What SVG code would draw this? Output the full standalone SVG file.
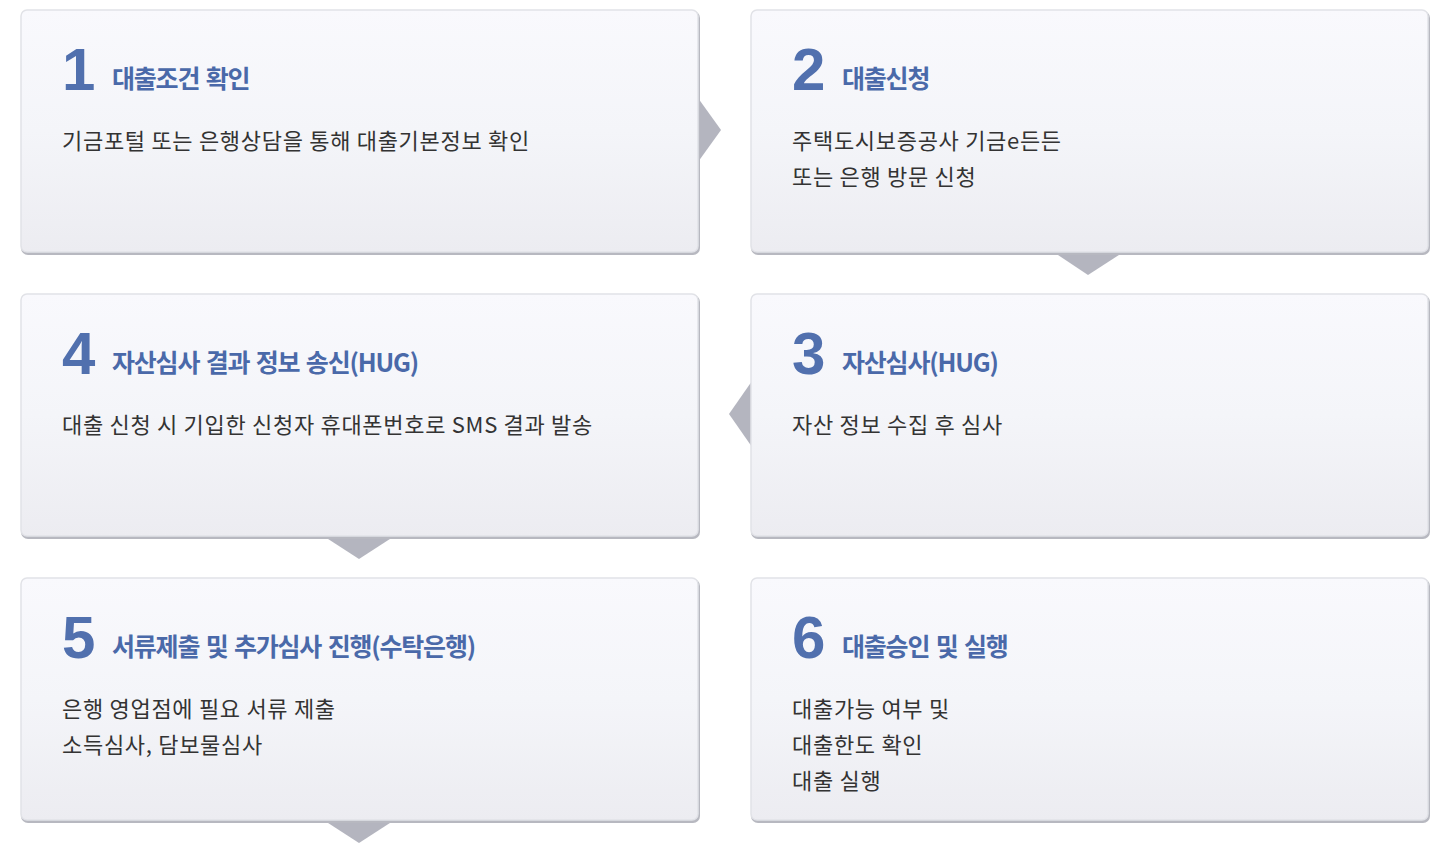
<svg xmlns="http://www.w3.org/2000/svg" width="1448" height="858" viewBox="0 0 1448 858">
<style>
.sh{fill:#b7b8c0}
.bx{fill:url(#g);stroke:#e1e2e7;stroke-width:1.5}
.num{font-family:"Liberation Sans",Arial,sans-serif;font-weight:bold;font-size:60px;fill:#5170ae}
.tt{font-family:"Noto Sans CJK KR","Liberation Sans",sans-serif;font-weight:bold;font-size:25px;letter-spacing:-1.2px;word-spacing:2px;fill:#4a69a9}
.bd{font-family:"Noto Sans CJK KR","Liberation Sans",sans-serif;font-size:22px;letter-spacing:0.7px;fill:#333}
.ar{fill:#b4b5bf}
</style>
<defs>
<linearGradient id="g" x1="0" y1="0" x2="0" y2="1">
<stop offset="0" stop-color="#f9f9fd"/>
<stop offset="0.5" stop-color="#f4f5f9"/>
<stop offset="1" stop-color="#ececf1"/>
</linearGradient>
</defs>
<rect width="1448" height="858" fill="#fff"/>
<g id="connectors">
<polygon class="ar" points="698,98 721,130 698,162"/>
<polygon class="ar" points="1055,253 1122,253 1088,275"/>
<polygon class="ar" points="752,381 729,414 752,447"/>
<polygon class="ar" points="325,537 393,537 359,559"/>
<polygon class="ar" points="325,821 393,821 359,843"/>
</g>
<g id="node1">
<rect class="sh" x="21" y="11" width="679" height="244" rx="7"/>
<rect class="bx" x="21" y="10" width="677" height="242" rx="6"/>
<text class="num" x="62" y="90">1</text>
<text class="tt" x="112" y="88">대출조건 확인</text>
<text class="bd" x="62" y="149">기금포털 또는 은행상담을 통해 대출기본정보 확인</text>
</g>
<g id="node2">
<rect class="sh" x="751" y="11" width="679" height="244" rx="7"/>
<rect class="bx" x="751" y="10" width="677" height="242" rx="6"/>
<text class="num" x="792" y="90">2</text>
<text class="tt" x="842" y="88">대출신청</text>
<text class="bd" x="792" y="149">주택도시보증공사 기금e든든</text>
<text class="bd" x="792" y="185">또는 은행 방문 신청</text>
</g>
<g id="node4">
<rect class="sh" x="21" y="295" width="679" height="244" rx="7"/>
<rect class="bx" x="21" y="294" width="677" height="242" rx="6"/>
<text class="num" x="62" y="374">4</text>
<text class="tt" x="112" y="372">자산심사 결과 정보 송신(HUG)</text>
<text class="bd" x="62" y="433">대출 신청 시 기입한 신청자 휴대폰번호로 SMS 결과 발송</text>
</g>
<g id="node3">
<rect class="sh" x="751" y="295" width="679" height="244" rx="7"/>
<rect class="bx" x="751" y="294" width="677" height="242" rx="6"/>
<text class="num" x="792" y="374">3</text>
<text class="tt" x="842" y="372">자산심사(HUG)</text>
<text class="bd" x="792" y="433">자산 정보 수집 후 심사</text>
</g>
<g id="node5">
<rect class="sh" x="21" y="579" width="679" height="244" rx="7"/>
<rect class="bx" x="21" y="578" width="677" height="242" rx="6"/>
<text class="num" x="62" y="658">5</text>
<text class="tt" x="112" y="656">서류제출 및 추가심사 진행(수탁은행)</text>
<text class="bd" x="62" y="717">은행 영업점에 필요 서류 제출</text>
<text class="bd" x="62" y="753">소득심사, 담보물심사</text>
</g>
<g id="node6">
<rect class="sh" x="751" y="579" width="679" height="244" rx="7"/>
<rect class="bx" x="751" y="578" width="677" height="242" rx="6"/>
<text class="num" x="792" y="658">6</text>
<text class="tt" x="842" y="656">대출승인 및 실행</text>
<text class="bd" x="792" y="717">대출가능 여부 및</text>
<text class="bd" x="792" y="753">대출한도 확인</text>
<text class="bd" x="792" y="789">대출 실행</text>
</g>
</svg>
